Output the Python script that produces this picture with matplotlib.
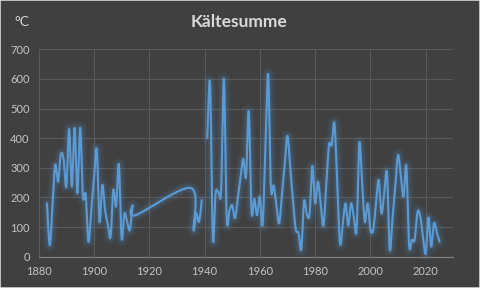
import numpy as np
import matplotlib
matplotlib.use("Agg")
import matplotlib.pyplot as plt
from matplotlib.patches import Rectangle

plt.rcParams['font.family'] = ['Lato', 'DejaVu Sans']

title = "Kältesumme"
unit_label = "°C"

years = [1883, 1884, 1885, 1886, 1887, 1888, 1889, 1890, 1891, 1892,
         1893, 1894, 1895, 1896, 1897, 1898, 1899, 1900, 1901, 1902,
         1903, 1904, 1905, 1906, 1907, 1908, 1909, 1910, 1911, 1912,
         1913, 1914, 1915,
         1935, 1936, 1937, 1938, 1939, 1940,
         1941, 1942, 1943, 1944, 1945, 1946, 1947, 1948, 1949, 1950,
         1951, 1952, 1953, 1954, 1955, 1956, 1957, 1958, 1959, 1960,
         1961, 1962, 1963, 1964, 1965, 1966, 1967, 1968, 1969, 1970,
         1971, 1972, 1973, 1974, 1975, 1976, 1977, 1978, 1979, 1980,
         1981, 1982, 1983, 1984, 1985, 1986, 1987, 1988, 1989, 1990,
         1991, 1992, 1993, 1994, 1995, 1996, 1997, 1998, 1999, 2000,
         2001, 2002, 2003, 2004, 2005, 2006, 2007, 2008, 2009, 2010,
         2011, 2012, 2013, 2014, 2015, 2016, 2017, 2018, 2019, 2020,
         2021, 2022, 2023, 2024, 2025]

values = [180, 39, 175, 310, 253, 345, 330, 236, 431, 236,
          435, 214, 435, 203, 210, 51, 155, 260, 362, 118,
          242, 158, 110, 67, 225, 170, 312, 62, 146, 118,
          90, 172, 140,
          232, 90, 146, 118, 191, None,
          400, 585, 62, 214, 218, 225, 600, 135, 155, 174,
          130, 195, 265, 330, 270, 490, 152, 195, 140, 203,
          108, 360, 615, 235, 240, 175, 113, 210, 310, 408,
          300, 190, 92, 80, 25, 187, 144, 144, 306, 180,
          253, 180, 105, 240, 377, 377, 450, 250, 45, 110,
          180, 105, 180, 135, 90, 383, 250, 117, 180, 91,
          91, 175, 259, 146, 215, 282, 25, 130, 235, 343,
          275, 203, 306, 40, 57, 57, 150, 138, 70, 11,
          132, 34, 113, 82, 51]

x_ticks = [1880, 1900, 1920, 1940, 1960, 1980, 2000, 2020]
y_ticks = [0, 100, 200, 300, 400, 500, 600, 700]

BG = '#404040'
GRID = '#5a5a5a'
TXT = '#c4c4c4'
LINE = '#5b9bd5'


def catmull_rom(px, py, n=24):
    px = np.asarray(px, float)
    py = np.asarray(py, float)
    if len(px) < 2:
        return px, py
    P = np.column_stack([px, py])
    P = np.vstack([P[0], P, P[-1]])
    out = []
    t = np.linspace(0, 1, n, endpoint=False)
    for i in range(1, len(P) - 2):
        p0, p1, p2, p3 = P[i - 1], P[i], P[i + 1], P[i + 2]
        c1 = p1 + (p2 - p0) / 6.0
        c2 = p2 - (p3 - p1) / 6.0
        tt = t[:, None]
        seg = ((1 - tt) ** 3) * p1 + 3 * ((1 - tt) ** 2) * tt * c1 \
            + 3 * (1 - tt) * tt ** 2 * c2 + tt ** 3 * p2
        out.append(seg)
    out.append(P[-2][None, :])
    out = np.vstack(out)
    return out[:, 0], out[:, 1]


# split into segments at missing values
segments = []
cur_x, cur_y = [], []
for yr, v in zip(years, values):
    if v is None:
        if cur_x:
            segments.append((cur_x, cur_y))
        cur_x, cur_y = [], []
    else:
        cur_x.append(yr)
        cur_y.append(v)
if cur_x:
    segments.append((cur_x, cur_y))

fig = plt.figure(figsize=(4.8, 2.88), dpi=100)
fig.patch.set_facecolor(BG)
ax = fig.add_axes([0.0806, 0.1087, 0.8638, 0.7201])
ax.set_facecolor(BG)

ax.set_xlim(1880, 2030)
ax.set_ylim(0, 700)
ax.set_xticks(x_ticks)
ax.set_yticks(y_ticks)
ax.grid(True, color=GRID, linewidth=0.8)
ax.set_axisbelow(True)
for s in ['top', 'right', 'left']:
    ax.spines[s].set_visible(False)
ax.spines['bottom'].set_color('#7f7f7f')
ax.spines['bottom'].set_linewidth(0.9)
ax.tick_params(length=0, colors=TXT, labelsize=8, pad=6.5)

for sx, sy in segments:
    xs, ys = catmull_rom(sx, sy)
    for lw, a in [(10, 0.035), (8, 0.05), (6, 0.07), (4, 0.11)]:
        ax.plot(xs, ys, color=LINE, lw=lw, alpha=a, solid_capstyle='round',
                solid_joinstyle='round', clip_on=False)
    ax.plot(xs, ys, color=LINE, lw=1.5, solid_capstyle='round',
            solid_joinstyle='round', clip_on=False)

fig.text(0.498, 0.922, title, ha='center', va='center', color='#d9d9d9',
         fontsize=12.5, fontweight='bold')
fig.text(0.045, 0.922, unit_label, ha='center', va='center', color='#d9d9d9',
         fontsize=10)

fig.add_artist(Rectangle((0, 0), 1, 1, transform=fig.transFigure,
                         fill=False, edgecolor='#d9d9d9', lw=1.2))

fig.savefig('out.png', dpi=100, facecolor=BG)
